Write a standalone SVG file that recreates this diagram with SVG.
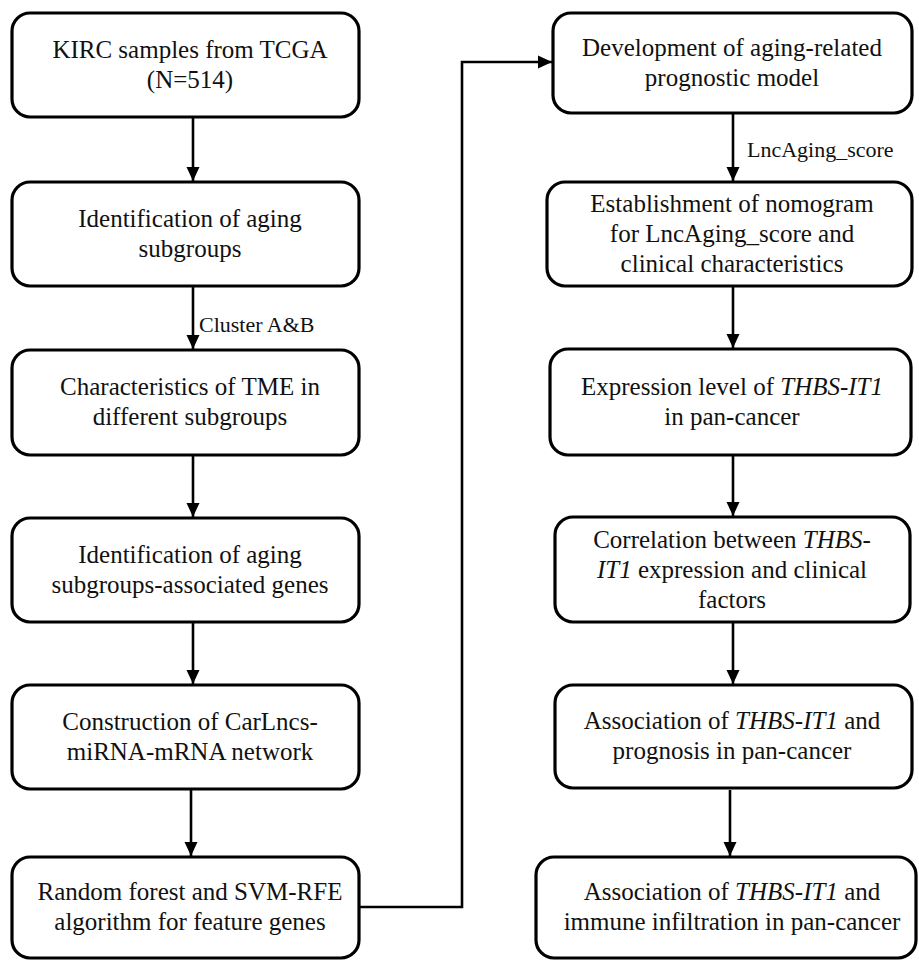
<svg xmlns="http://www.w3.org/2000/svg" width="919" height="960" viewBox="0 0 919 960">
<defs>
<marker id="ah" markerUnits="userSpaceOnUse" markerWidth="15" markerHeight="15" viewBox="0 0 15 15" refX="14" refY="7.5" orient="auto">
<path d="M0,1 L14,7.5 L0,14 Z" fill="#000"/>
</marker>
</defs>
<style>
rect.n{fill:#fff;stroke:#000;stroke-width:3.2}
text{font-family:'Liberation Serif','Times New Roman',serif;font-size:25px;fill:#111;text-anchor:middle}
text.lbl{font-size:22px;text-anchor:start}
.c{fill:none;stroke:#000;stroke-width:2.6}
tspan.i{font-style:italic}
</style>
<rect width="919" height="960" fill="#fff"/>
<g id="connectors">
<line class="c" x1="193" y1="118" x2="193" y2="181" marker-end="url(#ah)"/>
<line class="c" x1="193" y1="287" x2="193" y2="349" marker-end="url(#ah)"/>
<line class="c" x1="193" y1="456" x2="193" y2="517" marker-end="url(#ah)"/>
<line class="c" x1="193" y1="623" x2="193" y2="684" marker-end="url(#ah)"/>
<line class="c" x1="191" y1="790" x2="191" y2="856" marker-end="url(#ah)"/>
<polyline class="c" points="359,907 462,907 462,62 552,62" marker-end="url(#ah)"/>
<line class="c" x1="733" y1="114" x2="733" y2="181" marker-end="url(#ah)"/>
<line class="c" x1="733" y1="287" x2="733" y2="348" marker-end="url(#ah)"/>
<line class="c" x1="733" y1="456" x2="733" y2="516" marker-end="url(#ah)"/>
<line class="c" x1="733" y1="623" x2="733" y2="684" marker-end="url(#ah)"/>
<line class="c" x1="730" y1="790" x2="730" y2="856" marker-end="url(#ah)"/>
<text class="lbl" x="199" y="332" font-family="Liberation Serif">Cluster A&amp;B</text>
<text class="lbl" x="747" y="157" font-family="Liberation Serif">LncAging_score</text>
</g>
<g id="n1"><rect class="n" x="12" y="13" width="347" height="104" rx="18"/>
<text x="190" y="58" font-family="Liberation Serif">KIRC samples from TCGA</text><text x="190" y="88" font-family="Liberation Serif">(N=514)</text></g>
<g id="n2"><rect class="n" x="12" y="182" width="347" height="104" rx="18"/>
<text x="190" y="227" font-family="Liberation Serif">Identification of aging</text><text x="190" y="257" font-family="Liberation Serif">subgroups</text></g>
<g id="n3"><rect class="n" x="12" y="350" width="347" height="105" rx="18"/>
<text x="190" y="395" font-family="Liberation Serif">Characteristics of TME in</text><text x="190" y="425" font-family="Liberation Serif">different subgroups</text></g>
<g id="n4"><rect class="n" x="12" y="518" width="347" height="104" rx="18"/>
<text x="190" y="563" font-family="Liberation Serif">Identification of aging</text><text x="190" y="593" font-family="Liberation Serif">subgroups-associated genes</text></g>
<g id="n5"><rect class="n" x="12" y="685" width="347" height="104" rx="18"/>
<text x="190" y="730" font-family="Liberation Serif">Construction of CarLncs-</text><text x="190" y="760" font-family="Liberation Serif">miRNA-mRNA network</text></g>
<g id="n6"><rect class="n" x="12" y="857" width="347" height="101" rx="18"/>
<text x="190" y="900" font-family="Liberation Serif">Random forest and SVM-RFE</text><text x="190" y="930" font-family="Liberation Serif">algorithm for feature genes</text></g>
<g id="n7"><rect class="n" x="553" y="13" width="359" height="100" rx="18"/>
<text x="732" y="56" font-family="Liberation Serif">Development of aging-related</text><text x="732" y="86" font-family="Liberation Serif">prognostic model</text></g>
<g id="n8"><rect class="n" x="547" y="182" width="365" height="104" rx="18"/>
<text x="732" y="212" font-family="Liberation Serif">Establishment of nomogram</text><text x="732" y="242" font-family="Liberation Serif">for LncAging_score and</text><text x="732" y="272" font-family="Liberation Serif">clinical characteristics</text></g>
<g id="n9"><rect class="n" x="550" y="349" width="361" height="106" rx="18"/>
<text x="732" y="395" font-family="Liberation Serif">Expression level of <tspan class="i">THBS-IT1</tspan></text><text x="732" y="425" font-family="Liberation Serif">in pan-cancer</text></g>
<g id="n10"><rect class="n" x="555" y="517" width="355" height="105" rx="18"/>
<text x="732" y="548" font-family="Liberation Serif">Correlation between <tspan class="i">THBS-</tspan></text><text x="732" y="578" font-family="Liberation Serif"><tspan class="i">IT1</tspan> expression and clinical</text><text x="732" y="608" font-family="Liberation Serif">factors</text></g>
<g id="n11"><rect class="n" x="555" y="685" width="357" height="103" rx="18"/>
<text x="732" y="729" font-family="Liberation Serif">Association of <tspan class="i">THBS-IT1</tspan> and</text><text x="732" y="759" font-family="Liberation Serif">prognosis in pan-cancer</text></g>
<g id="n12"><rect class="n" x="536" y="857" width="380" height="101" rx="18"/>
<text x="732" y="900" font-family="Liberation Serif">Association of <tspan class="i">THBS-IT1</tspan> and</text><text x="732" y="930" font-family="Liberation Serif">immune infiltration in pan-cancer</text></g>
</svg>
